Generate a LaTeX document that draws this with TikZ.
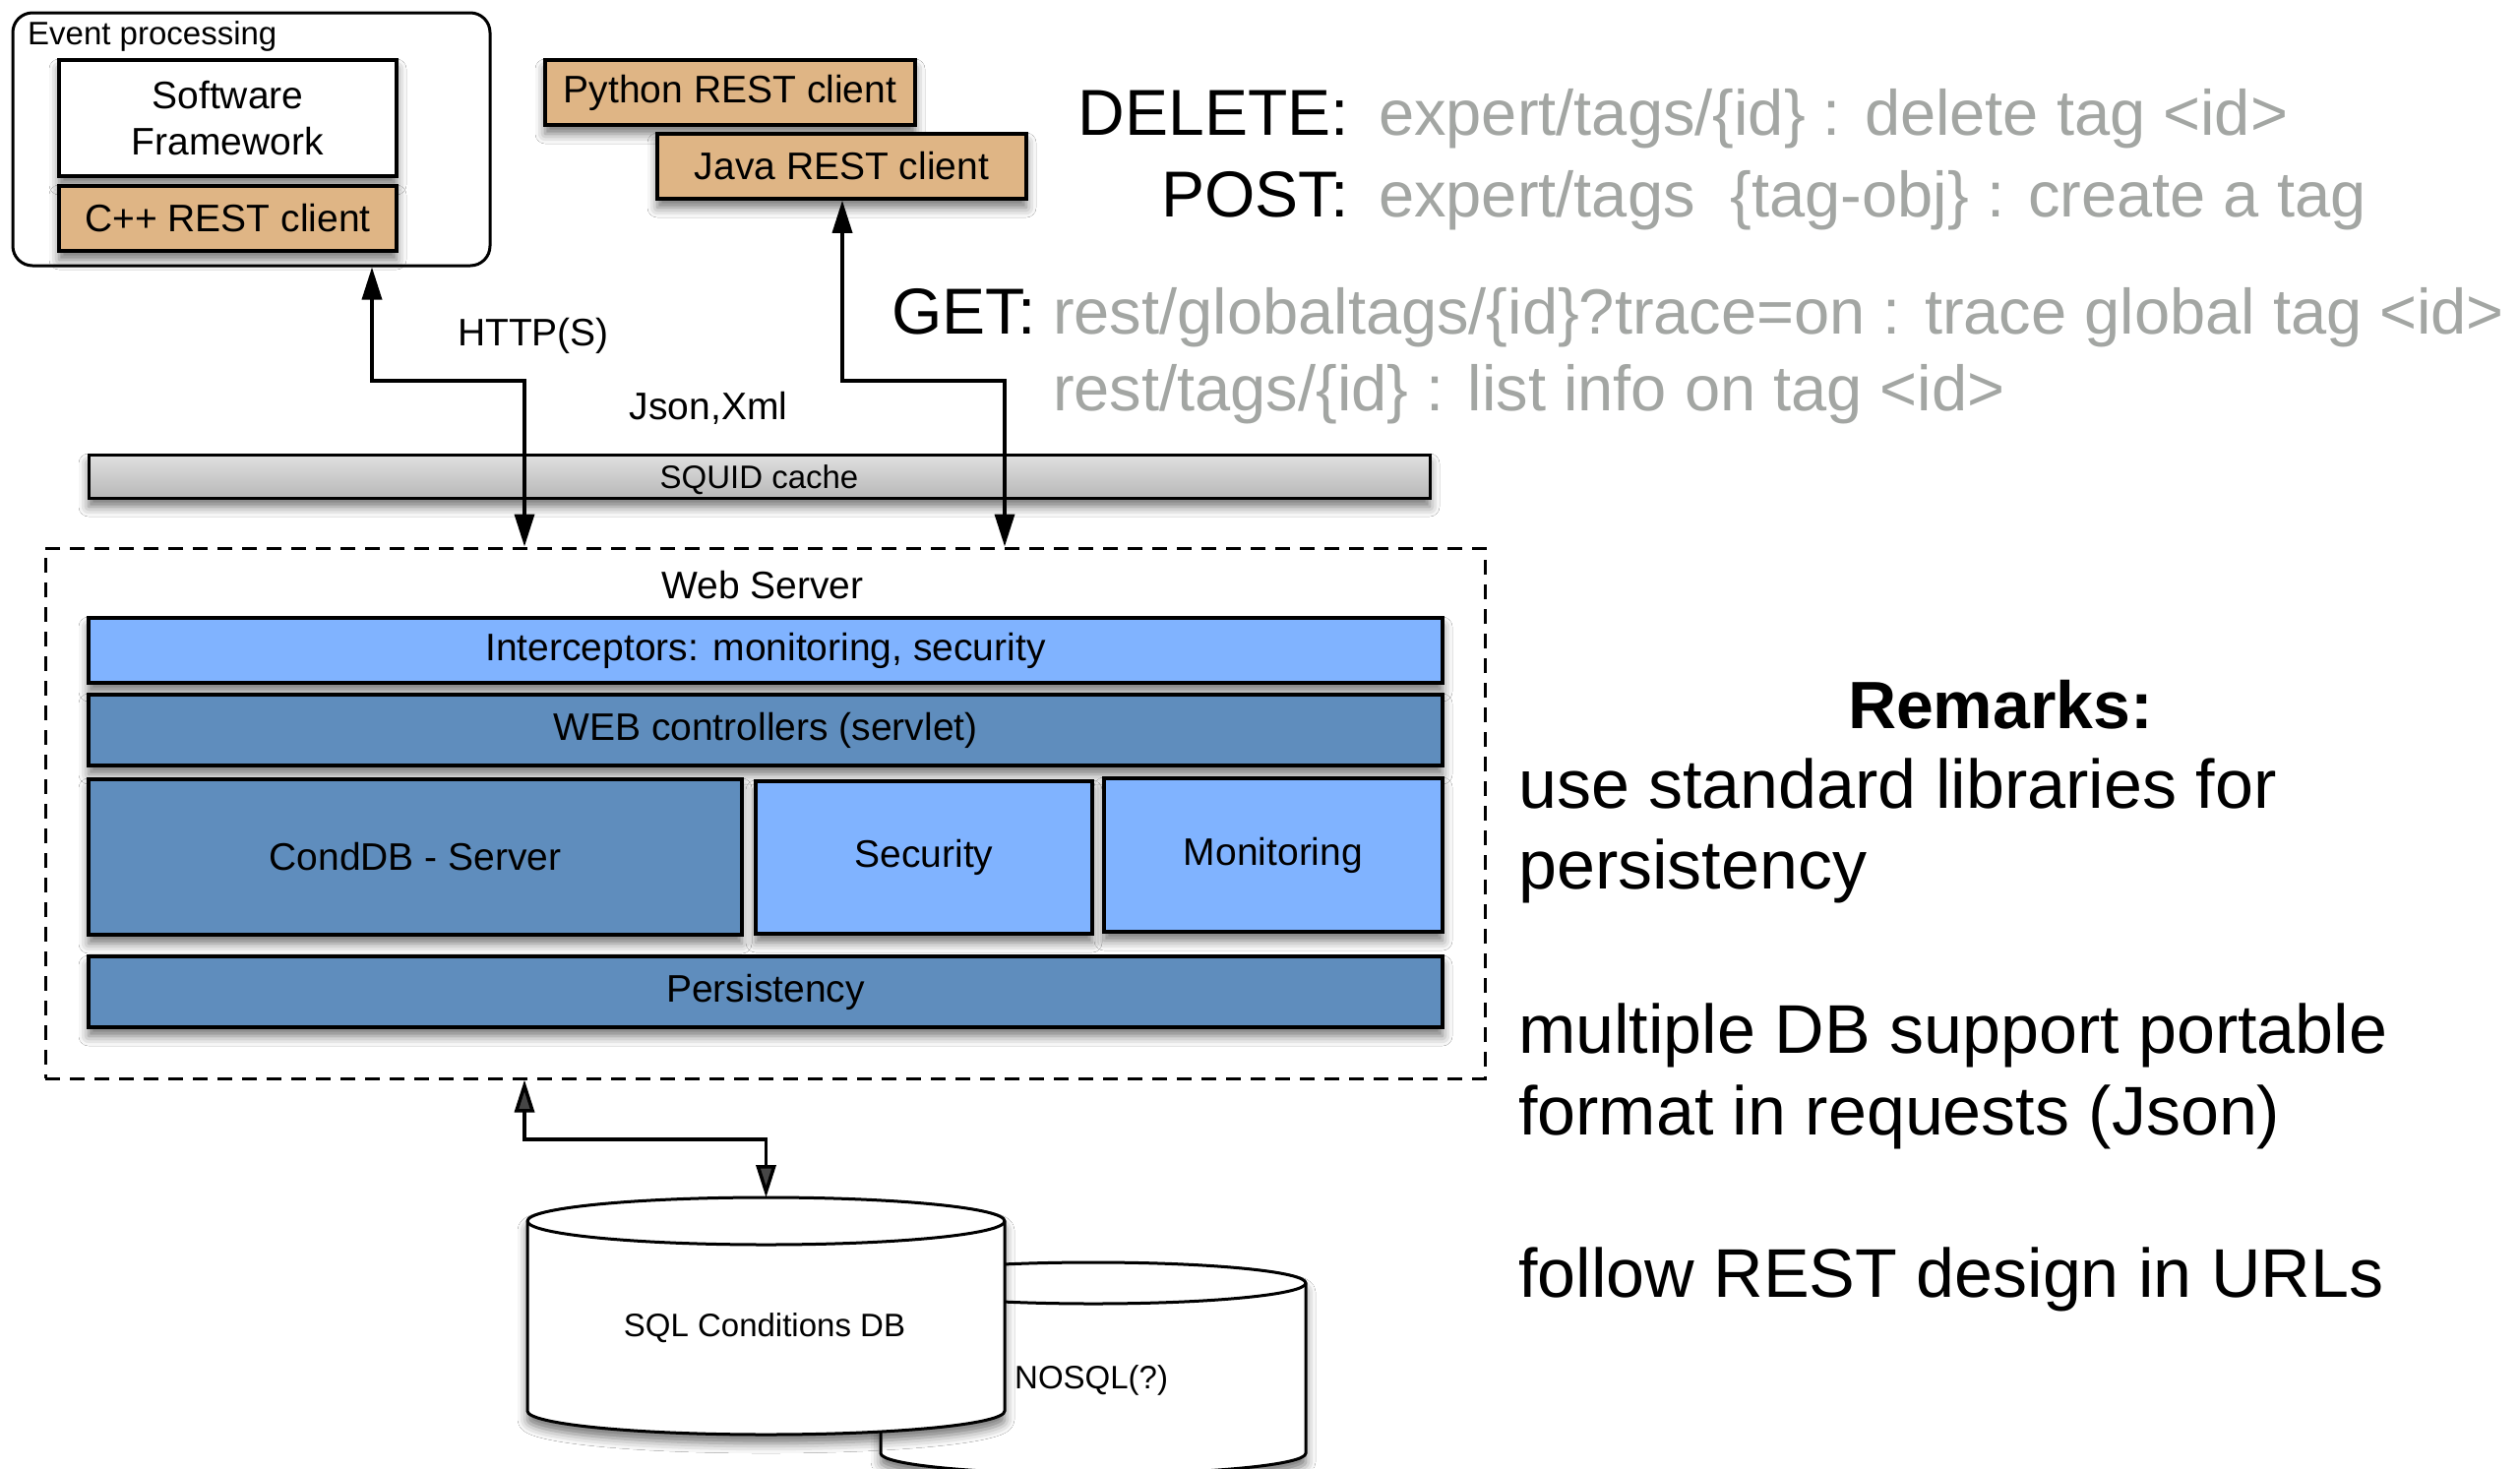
\documentclass[tikz,border=0pt]{standalone}
\usepackage{fontspec}
\setmainfont{Liberation Sans}
\usetikzlibrary{arrows.meta,shadows.blur}
\definecolor{tanfill}{RGB}{223,181,133}
\definecolor{lblue}{RGB}{128,179,255}
\definecolor{dblue}{RGB}{95,141,189}
\definecolor{urlgray}{RGB}{163,166,163}
\newcommand\fsz[1]{\fontsize{#1}{#1}\selectfont}
\tikzset{
  every node/.style={inner sep=0pt},
  shad/.style={blur shadow={shadow xshift=0pt, shadow yshift=-9pt, shadow blur radius=10pt, shadow opacity=55}},
  boxbase/.style={draw=black, line width=3.5pt, align=center, font=\fontsize{39}{47}\selectfont, shad},
  tanbox/.style={boxbase, fill=tanfill},
  lightbox/.style={boxbase, fill=lblue},
  darkbox/.style={boxbase, fill=dblue},
  whitebox/.style={boxbase, fill=white},
  conn/.style={line width=3.5pt, >={Triangle[length=33pt,width=20pt]}, <->},
  cyl/.style={draw=black, line width=3pt, fill=white, shad},
  lbl/.style={font=\fsz{39}},
  smalllbl/.style={font=\fsz{33}},
  verb/.style={font=\fsz{66}, anchor=base east},
  url/.style={font=\fsz{65}, text=urlgray, anchor=base west},
  remark/.style={font=\fsz{70}, anchor=base west}
}
\begin{document}
\begin{tikzpicture}[x=1pt,y=-1pt]
\useasboundingbox[fill=white] (0,0) rectangle (2561,1492);

% Event processing group
\node[draw, line width=3pt, rounded corners=20pt, minimum width=485pt, minimum height=257pt] (evt) at (255.5,141.5) {};
\node[smalllbl, anchor=base west] (evtlabel) at (28,45) {Event processing};
\node[whitebox, minimum width=343pt, minimum height=118pt] (sw) at (231.5,120) {Software\\Framework};
\node[tanbox, minimum width=343pt, minimum height=66pt] (cpp) at (231.5,222) {C++ REST client};

% other clients
\node[tanbox, minimum width=376pt, minimum height=66pt] (py) at (742,94) {Python REST client};
\node[tanbox, minimum width=375pt, minimum height=66pt] (java) at (855.5,169) {Java REST client};

% labels
\node[lbl] (http) at (542,341) {HTTP(S)};
\node[lbl] (json) at (720,415) {Json,Xml};

% SQUID cache
\node[draw, line width=3pt, top color=black!12, middle color=white, bottom color=black!28,
      minimum width=1363pt, minimum height=44pt, shad] (squid) at (771.5,484) {};
\node[smalllbl] (squidlbl) at (771.5,488) {SQUID cache};

% Web server
\node[draw, line width=3pt, dash pattern=on 15pt off 10pt, minimum width=1463pt, minimum height=539pt] (web) at (777.5,826.5) {};
\node[lbl] (wslabel) at (775,595) {Web Server};
\node[lightbox, minimum width=1376pt, minimum height=66pt] (intc) at (778,661) {Interceptors: monitoring, security};
\node[darkbox, minimum width=1376pt, minimum height=72pt] (webc) at (778,742) {WEB controllers (servlet)};
\node[darkbox, minimum width=664pt, minimum height=158pt] (cond) at (422,871) {CondDB - Server};
\node[lightbox, minimum width=342pt, minimum height=155pt] (sec) at (939,871.5) {Security};
\node[lightbox, minimum width=344pt, minimum height=156pt] (mon) at (1294,869) {Monitoring};
\node[darkbox, minimum width=1376pt, minimum height=72pt] (pers) at (778,1008) {Persistency};

% connectors
\coordinate (a1b) at (378,387);
\coordinate (a1c) at (533,387);
\draw[conn] (evt.south -| a1b) -- (a1b) -- (a1c) -- (a1c |- web.north);
\coordinate (a2b) at (856,387);
\coordinate (a2c) at (1021,387);
\draw[conn] (java.south -| a2b) -- (a2b) -- (a2c) -- (a2c |- web.north);

% databases
\path[cyl] (895,1304) -- (895,1477) arc[start angle=180,end angle=360,x radius=216pt,y radius=21pt]
  -- (1327,1304) arc[start angle=0,end angle=180,x radius=216pt,y radius=21pt] -- cycle;
\draw[line width=3pt] (895,1304) arc[start angle=180,end angle=360,x radius=216pt,y radius=21pt];
\path[cyl] (536,1241) -- (536,1434) arc[start angle=180,end angle=360,x radius=242.5pt,y radius=24pt]
  -- (1021,1241) arc[start angle=0,end angle=180,x radius=242.5pt,y radius=24pt] -- cycle;
\draw[line width=3pt] (536,1241) arc[start angle=180,end angle=360,x radius=242.5pt,y radius=24pt];
\coordinate (sqltop) at (778.5,1217);
\node[smalllbl] (sqllbl) at (777,1350) {SQL Conditions DB};
\node[smalllbl, anchor=west] (nosqllbl) at (1031,1403) {NOSQL(?)};

\coordinate (a3b) at (533,1158);
\coordinate (a3c) at (778.5,1158);
\draw[conn] (web.south -| a3b) -- (a3b) -- (a3c) -- (sqltop);

% REST verbs
\node[verb] (del) at (1371,137) {DELETE:};
\node[url] (delu) at (1401,137) {expert/tags/\{id\} : delete tag <id>};
\node[verb] (post) at (1371,220) {POST:};
\node[url] (postu) at (1401,220) {expert/tags\ \ \{tag-obj\} : create a tag};
\node[verb] (get) at (1053,339) {GET:};
\node[url] (getu1) at (1070,339) {rest/globaltags/\{id\}?trace=on : trace global tag <id>};
\node[url] (getu2) at (1070,417) {rest/tags/\{id\} : list info on tag <id>};

% Remarks
\node[font=\bfseries\fsz{68}, anchor=base] (rem) at (2033,740) {Remarks:};
\node[remark] (r1) at (1543,821) {use standard libraries for};
\node[remark] (r2) at (1543,903) {persistency};
\node[remark] (r3) at (1543,1070) {multiple DB support portable};
\node[remark] (r4) at (1543,1153) {format in requests (Json)};
\node[remark] (r5) at (1543,1318) {follow REST design in URLs};
\end{tikzpicture}
\end{document}
